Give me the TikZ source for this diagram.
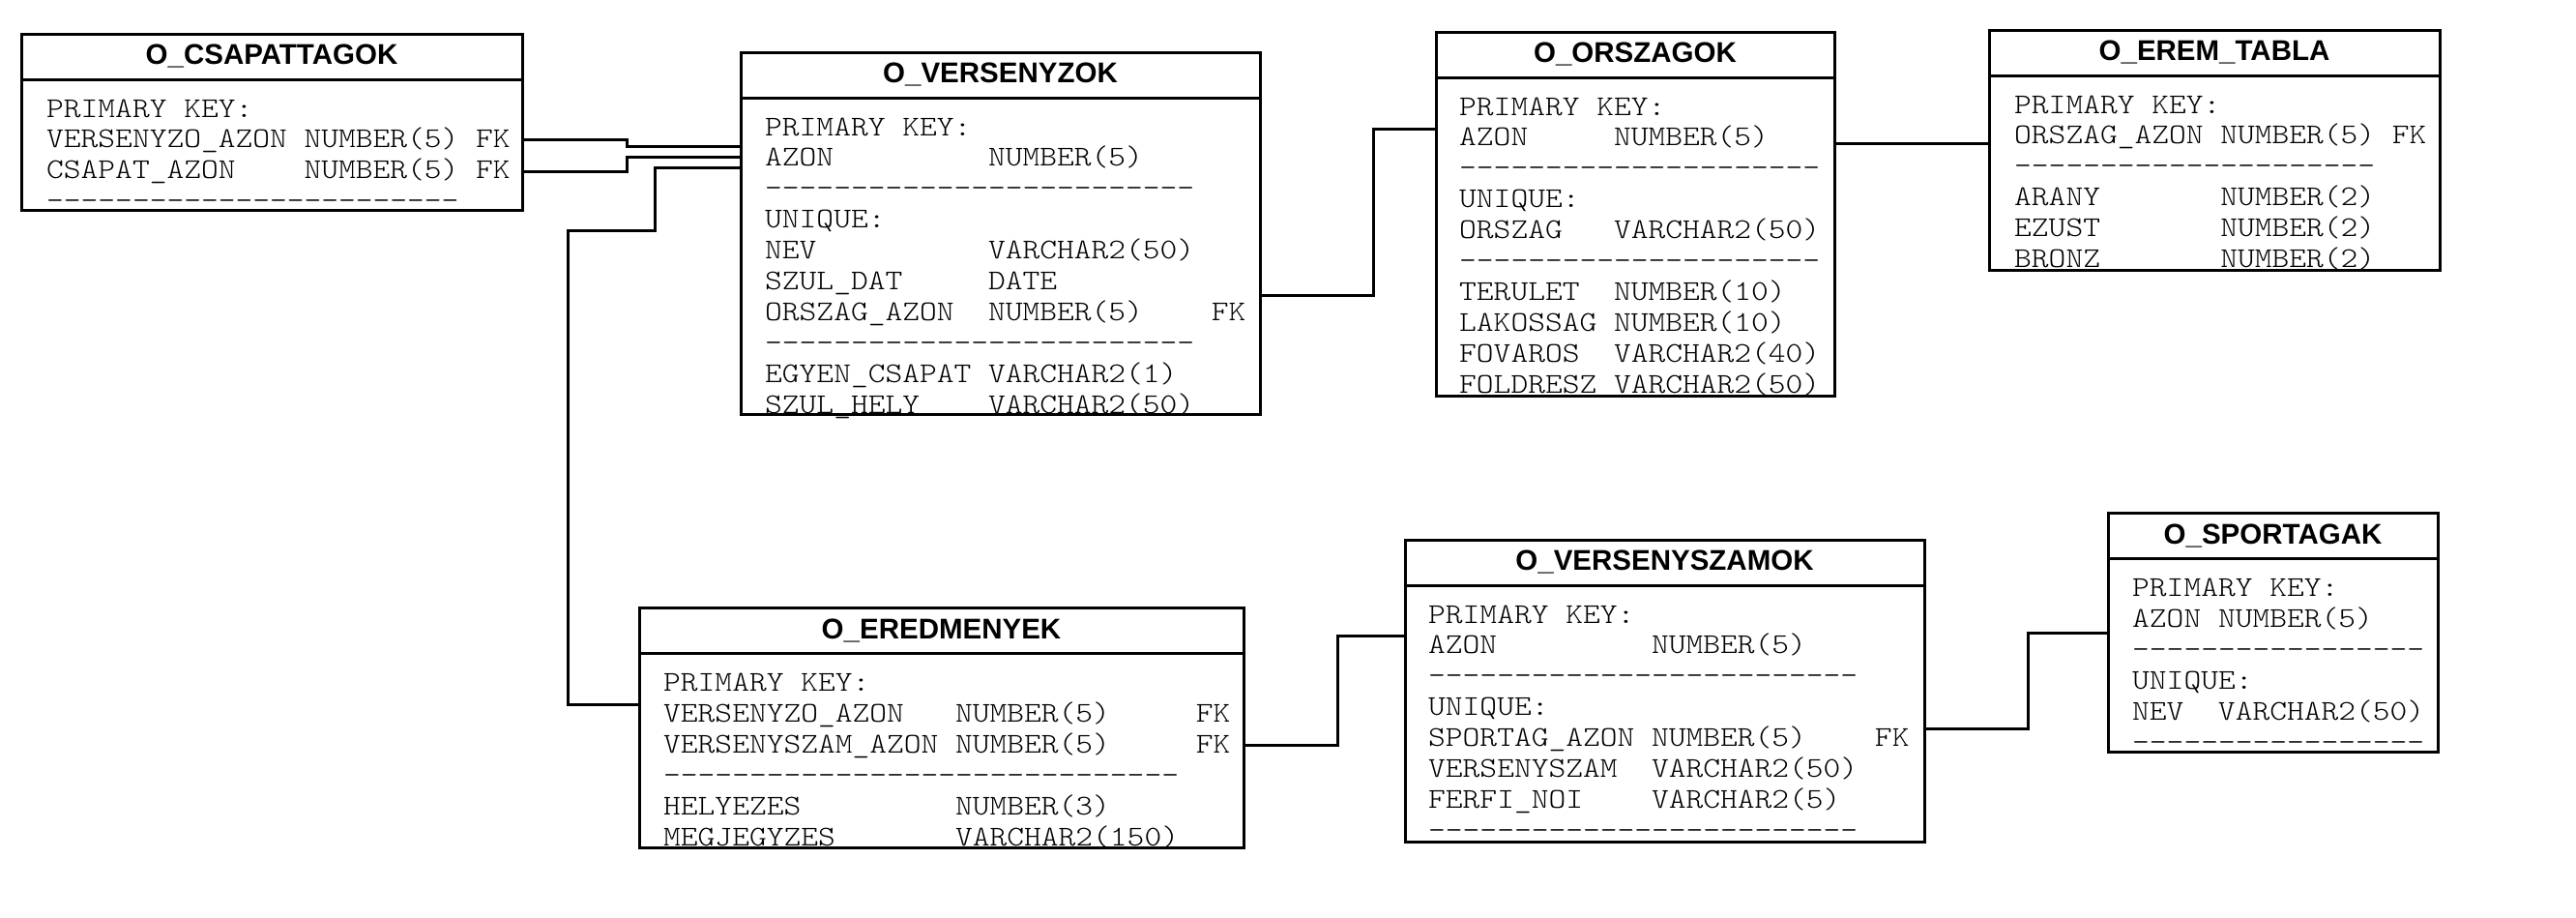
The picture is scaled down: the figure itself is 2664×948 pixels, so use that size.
\documentclass[tikz,border=0pt]{standalone}
\usepackage{fontspec}
\usetikzlibrary{calc}
\newfontfamily\monof{lmmonolt10-regular.otf}
\newfontfamily\titlef{Liberation Sans}
\newlength\cw
\setlength\cw{15.54pt}
\newcommand\fld[2]{\makebox[#1\cw][l]{#2}}
\newcommand\dsh[1]{\foreach\k in {1,...,#1}{\makebox[\cw][c]{-}}}
\newcommand\tblbody[1]{\scalebox{1.1429}[1]{\begin{tabular}[t]{@{}l@{}}#1\end{tabular}}}
\tikzset{
  tbl/.style={draw, line width=3pt, anchor=north west, inner sep=0pt, outer sep=0pt},
  sepl/.style={line width=3pt},
  ttl/.style={anchor=base, inner sep=0pt, font=\titlef\bfseries\fontsize{29.5}{32}\selectfont},
  body/.style={anchor=base west, inner sep=0pt, font=\monof\fontsize{29.6}{31.9}\selectfont},
  conn/.style={line width=3pt}
}
\begin{document}
\begin{tikzpicture}[x=1pt,y=-1pt]
\useasboundingbox (0,0) rectangle (2664,948);

% ---------- tables ----------
\node[tbl, minimum width=518pt, minimum height=182.5pt] (csap) at (22,35) {};
\node[tbl, minimum width=537pt, minimum height=374pt] (vers) at (766,54) {};
\node[tbl, minimum width=412pt, minimum height=376pt] (orsz) at (1485,33) {};
\node[tbl, minimum width=466pt, minimum height=248pt] (erem) at (2057,31) {};
\node[tbl, minimum width=625pt, minimum height=248pt] (ered) at (661,628.5) {};
\node[tbl, minimum width=537pt, minimum height=312pt] (vszam) at (1453,558) {};
\node[tbl, minimum width=341pt, minimum height=247pt] (sport) at (2180,530.5) {};

\foreach \t in {csap,vers,orsz,erem,ered,vszam,sport}{
  \draw[sepl] ($(\t.north west)+(0,47)$) -- ($(\t.north east)+(0,47)$);
}

% ---------- titles ----------
\node[ttl] (csap-t) at ($(csap.north)+(0,31.5)$) {O\_CSAPATTAGOK};
\node[ttl] (vers-t) at ($(vers.north)+(0,31.5)$) {O\_VERSENYZOK};
\node[ttl] (orsz-t) at ($(orsz.north)+(0,31.5)$) {O\_ORSZAGOK};
\node[ttl] (erem-t) at ($(erem.north)+(0,31.5)$) {O\_EREM\_TABLA};
\node[ttl] (ered-t) at ($(ered.north)+(0,31.5)$) {O\_EREDMENYEK};
\node[ttl] (vszam-t) at ($(vszam.north)+(0,31.5)$) {O\_VERSENYSZAMOK};
\node[ttl] (sport-t) at ($(sport.north)+(0,31.5)$) {O\_SPORTAGAK};

% ---------- bodies ----------
\node[body] (csap-b) at ($(csap.north west)+(26,86)$) {\tblbody{%
PRIMARY KEY:\\
\fld{15}{VERSENYZO\_AZON}\fld{10}{NUMBER(5)}FK\\
\fld{15}{CSAPAT\_AZON}\fld{10}{NUMBER(5)}FK\\
\dsh{24}}};

\node[body] (vers-b) at ($(vers.north west)+(25,86)$) {\tblbody{%
PRIMARY KEY:\\
\fld{13}{AZON}NUMBER(5)\\
\dsh{25}\\
UNIQUE:\\
\fld{13}{NEV}VARCHAR2(50)\\
\fld{13}{SZUL\_DAT}DATE\\
\fld{13}{ORSZAG\_AZON}\fld{13}{NUMBER(5)}FK\\
\dsh{25}\\
\fld{13}{EGYEN\_CSAPAT}VARCHAR2(1)\\
\fld{13}{SZUL\_HELY}VARCHAR2(50)}};

\node[body] (orsz-b) at ($(orsz.north west)+(24,86)$) {\tblbody{%
PRIMARY KEY:\\
\fld{9}{AZON}NUMBER(5)\\
\dsh{21}\\
UNIQUE:\\
\fld{9}{ORSZAG}VARCHAR2(50)\\
\dsh{21}\\
\fld{9}{TERULET}NUMBER(10)\\
\fld{9}{LAKOSSAG}NUMBER(10)\\
\fld{9}{FOVAROS}VARCHAR2(40)\\
\fld{9}{FOLDRESZ}VARCHAR2(50)}};

\node[body] (erem-b) at ($(erem.north west)+(26,86)$) {\tblbody{%
PRIMARY KEY:\\
\fld{12}{ORSZAG\_AZON}\fld{10}{NUMBER(5)}FK\\
\dsh{21}\\
\fld{12}{ARANY}NUMBER(2)\\
\fld{12}{EZUST}NUMBER(2)\\
\fld{12}{BRONZ}NUMBER(2)}};

\node[body] (ered-b) at ($(ered.north west)+(25,86)$) {\tblbody{%
PRIMARY KEY:\\
\fld{17}{VERSENYZO\_AZON}\fld{14}{NUMBER(5)}FK\\
\fld{17}{VERSENYSZAM\_AZON}\fld{14}{NUMBER(5)}FK\\
\dsh{30}\\
\fld{17}{HELYEZES}NUMBER(3)\\
\fld{17}{MEGJEGYZES}VARCHAR2(150)}};

\node[body] (vszam-b) at ($(vszam.north west)+(24,86)$) {\tblbody{%
PRIMARY KEY:\\
\fld{13}{AZON}NUMBER(5)\\
\dsh{25}\\
UNIQUE:\\
\fld{13}{SPORTAG\_AZON}\fld{13}{NUMBER(5)}FK\\
\fld{13}{VERSENYSZAM}VARCHAR2(50)\\
\fld{13}{FERFI\_NOI}VARCHAR2(5)\\
\dsh{25}}};

\node[body] (sport-b) at ($(sport.north west)+(25,86)$) {\tblbody{%
PRIMARY KEY:\\
\fld{5}{AZON}NUMBER(5)\\
\dsh{17}\\
UNIQUE:\\
\fld{5}{NEV}VARCHAR2(50)\\
\dsh{17}}};

% ---------- connectors ----------
\draw[conn] ($(csap.north east)+(0,109)$) -- ++(108,0) |- ($(vers.north west)+(0,97)$);
\draw[conn] ($(csap.north east)+(0,142)$) -- ++(108,0) |- ($(vers.north west)+(0,108)$);
\draw[conn] ($(vers.north west)+(0,119)$) -- ++(-89,0) -- ++(0,65) -- ++(-90,0) |- ($(ered.north west)+(0,99.5)$);
\draw[conn] ($(vers.north east)+(0,251)$) -- ++(117,0) |- ($(orsz.north west)+(0,100)$);
\draw[conn] ($(orsz.north east)+(0,115)$) coordinate (c5) -- (c5 -| erem.west);
\draw[conn] ($(ered.north east)+(0,141.5)$) -- ++(97,0) |- ($(vszam.north west)+(0,99.5)$);
\draw[conn] ($(vszam.north east)+(0,195)$) -- ++(107,0) |- ($(sport.north west)+(0,123.5)$);
\end{tikzpicture}
\end{document}
